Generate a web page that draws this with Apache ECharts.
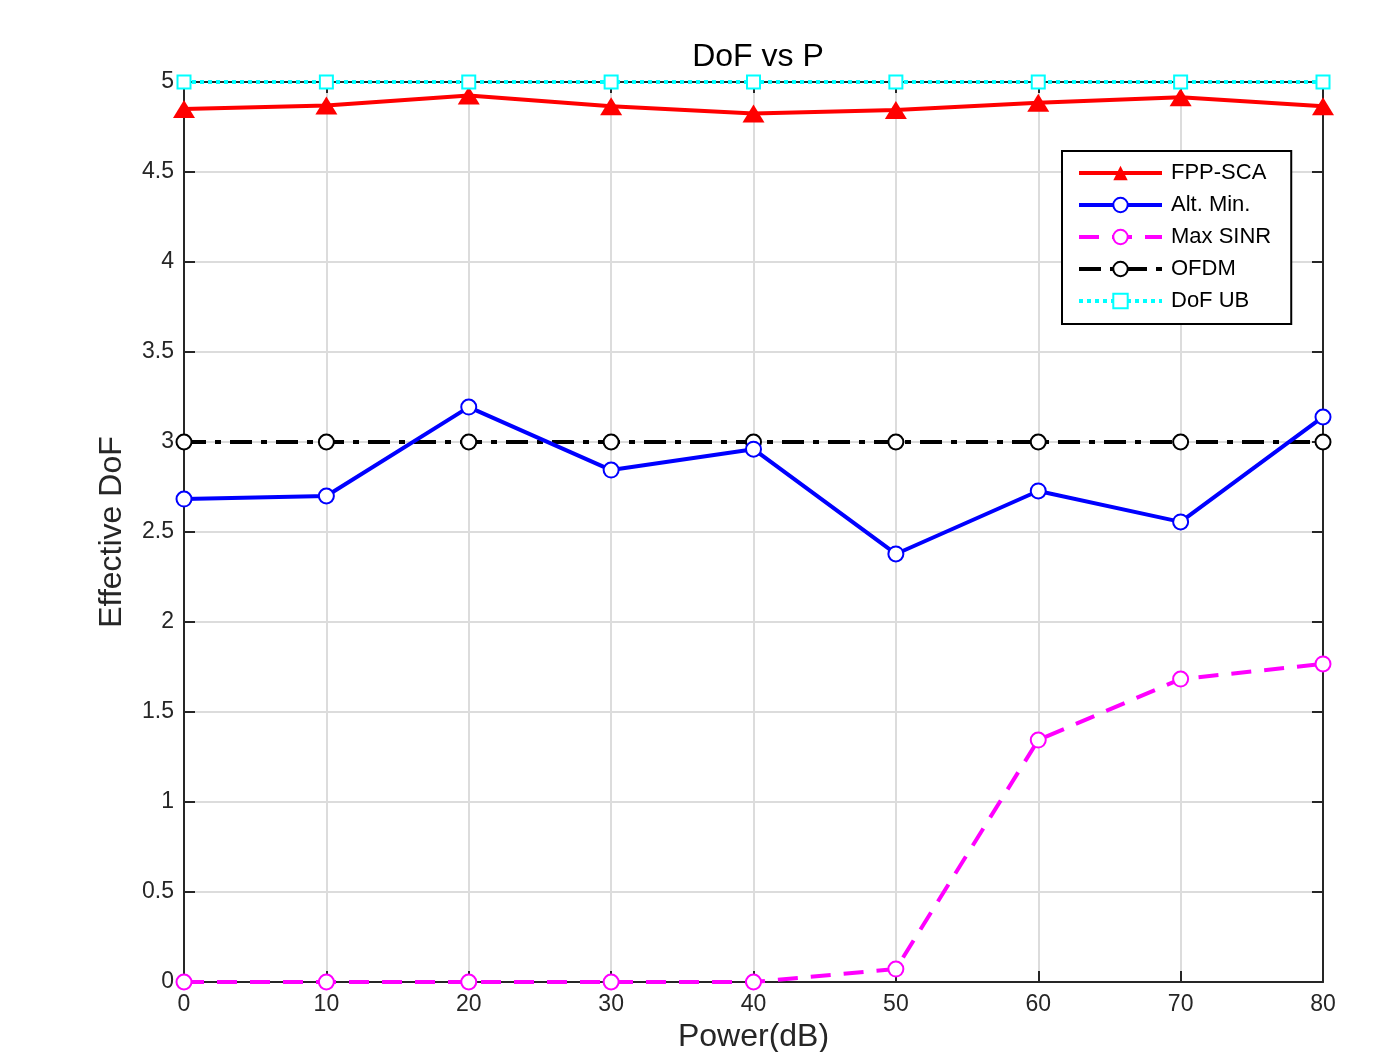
<!DOCTYPE html>
<html>
<head>
<meta charset="utf-8">
<script src="https://cdn.jsdelivr.net/npm/echarts@6/dist/echarts.min.js"></script>
<style>
  html, body { margin: 0; padding: 0; background: #fff; }
  #chart { width: 1385px; height: 1052px; }
</style>
</head>
<body>
<div id="chart"></div>
<script>
  // data
  const power = [0, 10, 20, 30, 40, 50, 60, 70, 80]
  const fppSca = [4.85, 4.87, 4.925, 4.865, 4.825, 4.845, 4.885, 4.915, 4.865]
  const altMin = [2.683, 2.70, 3.194, 2.844, 2.96, 2.378, 2.728, 2.556, 3.139]
  const maxSinr = [0, 0, 0, 0, 0, 0.072, 1.344, 1.683, 1.767]
  const ofdm = [3, 3, 3, 3, 3, 3, 3, 3, 3]
  const dofUb = [5, 5, 5, 5, 5, 5, 5, 5, 5]

  const font = '"Liberation Sans", Arial, Helvetica, sans-serif'
  const axisColor = '#262626'

  function pts(ys) {
    return power.map((x, i) => [x, ys[i]])
  }

  const chart = echarts.init(document.getElementById('chart'))

  // box axes: line + inward ticks on all four sides
  function boxAxis() {
    return {
      axisLine: { show: true, onZero: false, lineStyle: { color: axisColor, width: 2 } },
      axisTick: { show: true, inside: true, length: 11, lineStyle: { color: axisColor, width: 2 } },
    }
  }

  const option = {
    animation: false,
    backgroundColor: '#fff',
    textStyle: { fontFamily: font },
    title: {
      text: 'DoF vs P',
      left: 753,
      top: 36,
      textAlign: 'center',
      textStyle: { fontFamily: font, fontSize: 32, fontWeight: 'normal', color: '#000' },
    },
    grid: { left: 184, right: 62, top: 82, bottom: 70, outerBoundsMode: 'none', containLabel: false },
    legend: {
      orient: 'vertical',
      left: 1062,
      top: 151,
      padding: [11, 20, 12, 15],
      itemWidth: 83,
      itemHeight: 18,
      itemGap: 10,
      borderColor: '#000',
      borderWidth: 2,
      backgroundColor: '#fff',
      lineStyle: { width: 4 },
      textStyle: { fontFamily: font, fontSize: 22, color: '#000', padding: [0, 0, 0, 4] },
      data: ['FPP-SCA', 'Alt. Min.', 'Max SINR', 'OFDM', 'DoF UB'],
    },
    xAxis: [
      Object.assign({
        type: 'value',
        position: 'bottom',
        min: 0,
        max: 80,
        interval: 10,
        name: 'Power(dB)',
        nameLocation: 'middle',
        nameGap: 38,
        nameTextStyle: { fontFamily: font, fontSize: 32, color: axisColor },
        axisLabel: { fontFamily: font, fontSize: 23, color: axisColor, margin: 11 },
        splitLine: { show: true, lineStyle: { color: '#dcdcdc', width: 2 } },
      }, boxAxis()),
      Object.assign({
        type: 'value',
        position: 'top',
        min: 0,
        max: 80,
        interval: 10,
        axisLabel: { show: false },
        splitLine: { show: false },
      }, boxAxis()),
    ],
    yAxis: [
      Object.assign({
        type: 'value',
        position: 'left',
        min: 0,
        max: 5,
        interval: 0.5,
        name: 'Effective DoF',
        nameLocation: 'middle',
        nameGap: 56,
        nameTextStyle: { fontFamily: font, fontSize: 32, color: axisColor },
        axisLabel: { fontFamily: font, fontSize: 23, color: axisColor, margin: 10 },
        splitLine: { show: true, lineStyle: { color: '#dcdcdc', width: 2 } },
      }, boxAxis()),
      Object.assign({
        type: 'value',
        position: 'right',
        min: 0,
        max: 5,
        interval: 0.5,
        axisLabel: { show: false },
        splitLine: { show: false },
      }, boxAxis()),
    ],
    series: [
      {
        name: 'Max SINR',
        type: 'line',
        data: pts(maxSinr),
        symbol: 'emptyCircle',
        symbolSize: 15,
        color: '#ff00ff',
        lineStyle: { color: '#ff00ff', width: 4, type: [20, 13] },
        itemStyle: { color: '#ff00ff', borderWidth: 4 },
      },
      {
        name: 'OFDM',
        type: 'line',
        data: pts(ofdm),
        symbol: 'emptyCircle',
        symbolSize: 15,
        color: '#000',
        lineStyle: { color: '#000', width: 4, type: [22, 9, 6, 9] },
        itemStyle: { color: '#000', borderWidth: 4 },
      },
      {
        name: 'Alt. Min.',
        type: 'line',
        data: pts(altMin),
        symbol: 'emptyCircle',
        symbolSize: 15,
        color: '#0000ff',
        lineStyle: { color: '#0000ff', width: 4 },
        itemStyle: { color: '#0000ff', borderWidth: 4 },
      },
      {
        name: 'FPP-SCA',
        type: 'line',
        data: pts(fppSca),
        symbol: 'triangle',
        symbolSize: [22, 18],
        color: '#ff0000',
        lineStyle: { color: '#ff0000', width: 4 },
        itemStyle: { color: '#ff0000' },
      },
      {
        name: 'DoF UB',
        type: 'line',
        data: pts(dofUb),
        symbol: 'emptyRect',
        symbolSize: 13,
        color: '#00ffff',
        lineStyle: { color: '#00ffff', width: 4, type: [4, 4] },
        itemStyle: { color: '#00ffff', borderWidth: 4 },
      },
    ],
  }

  chart.setOption(option)
</script>
</body>
</html>
